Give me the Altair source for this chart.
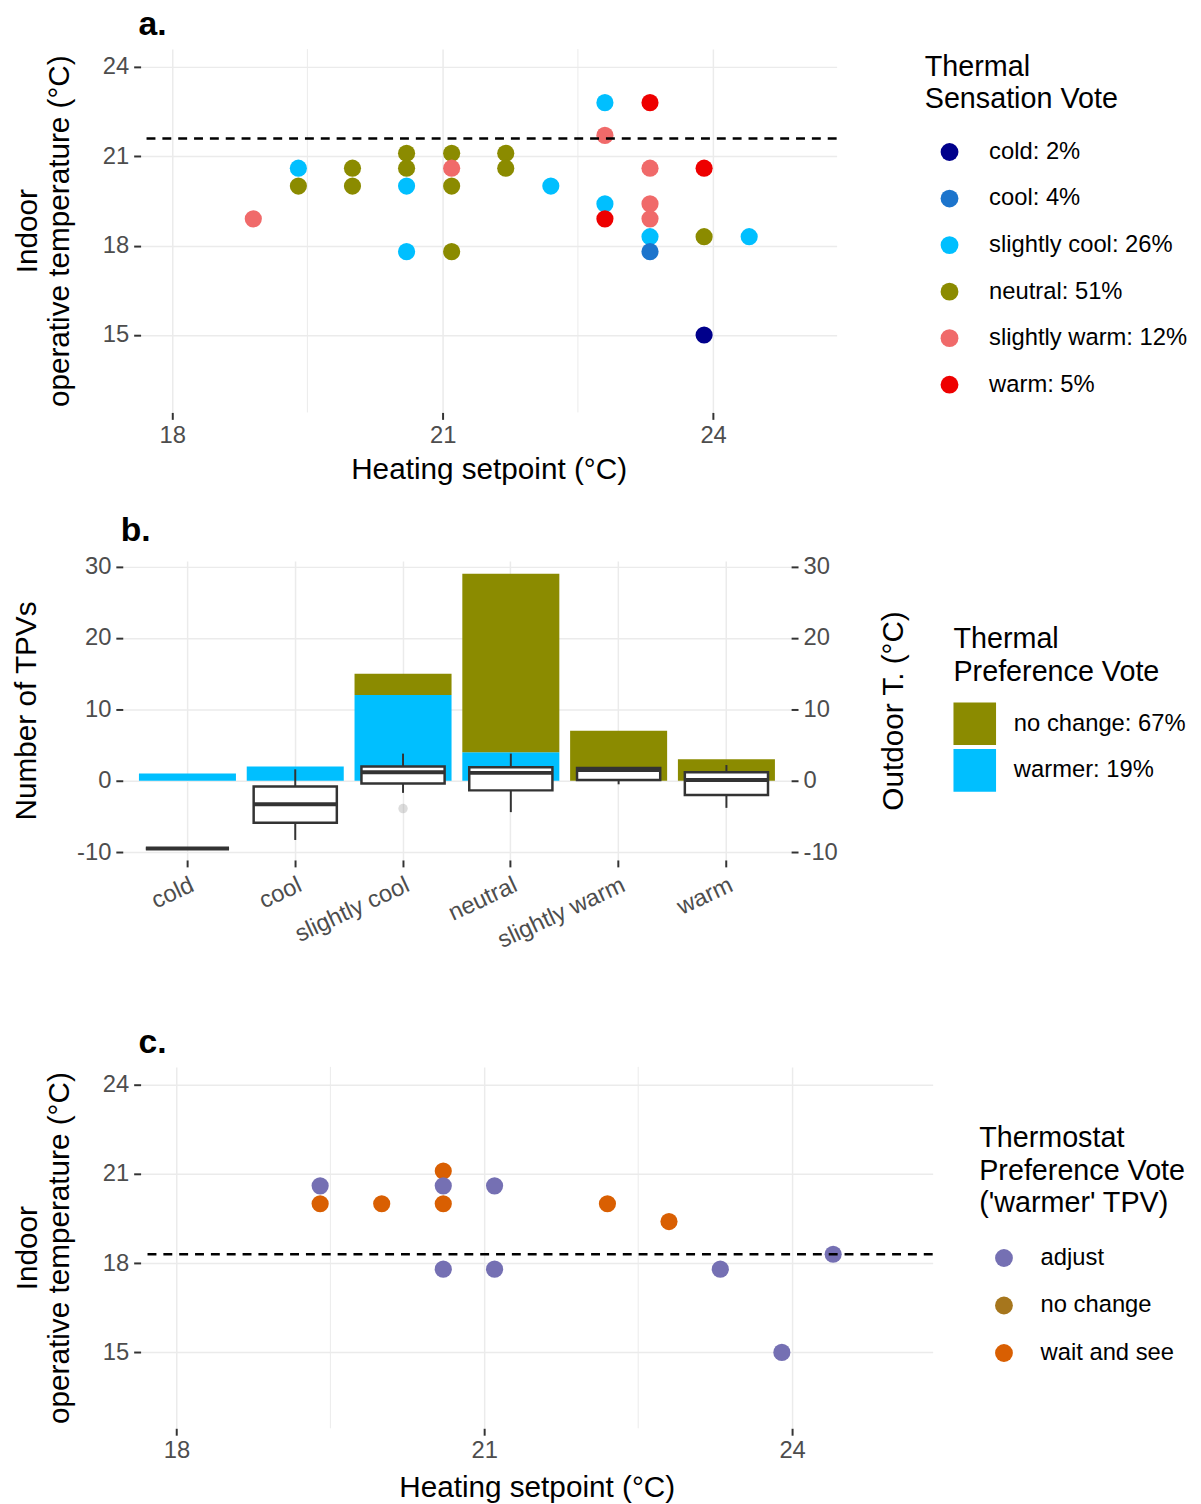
import altair as alt
import pandas as pd

FONT = "Liberation Sans"

# ---------------- Panel a data ----------------
a_setpoint = [18.9, 19.4, 19.4, 20.0, 20.0, 20.6, 20.6, 20.6, 20.6, 21.1, 21.1, 21.1, 21.1,
              21.7, 21.7, 22.2, 22.8, 22.8, 22.8, 22.8, 23.3, 23.3, 23.3, 23.3, 23.3, 23.3,
              23.9, 23.9, 23.9, 24.4]
a_indoor = [18.9, 20.6, 20.0, 20.6, 20.0, 21.1, 20.6, 20.0, 17.8, 21.1, 20.6, 20.0, 17.8,
            21.1, 20.6, 20.0, 22.8, 21.7, 19.4, 18.9, 22.8, 20.6, 19.4, 18.9, 18.3, 17.8,
            20.6, 18.3, 15.0, 18.3]
a_tsv = ["slightly warm", "slightly cool", "neutral", "neutral", "neutral", "neutral", "neutral",
         "slightly cool", "slightly cool", "neutral", "slightly warm", "neutral", "neutral",
         "neutral", "neutral", "slightly cool", "slightly cool", "slightly warm", "slightly cool",
         "warm", "warm", "slightly warm", "slightly warm", "slightly warm", "slightly cool",
         "cool", "warm", "neutral", "cold", "slightly cool"]
a_ref_line = [21.6]

tsv_categories = ["cold", "cool", "slightly cool", "neutral", "slightly warm", "warm"]
tsv_pct = [2, 4, 26, 51, 12, 5]
tsv_colors = ["#00008B", "#1C74CC", "#00BFFF", "#8B8B00", "#F06A6A", "#EE0000"]

# ---------------- Panel b data ----------------
tpv_categories = ["cold", "cool", "slightly cool", "neutral", "slightly warm", "warm"]
warmer_counts = [1, 2, 12, 4, 0, 0]
nochange_counts = [0, 0, 3, 25, 7, 3]
tpv_labels = ["no change: 67%", "warmer: 19%"]
tpv_colors = ["#8B8B00", "#00BFFF"]

out_min = [-9.5, -8.3, -1.7, -4.4, -0.5, -3.8]
out_q1 = [-9.5, -5.9, -0.4, -1.35, 0.1, -2.0]
out_med = [-9.5, -3.3, 1.2, 1.1, 1.5, 0.1]
out_q3 = [-9.5, -0.8, 2.0, 1.9, 1.8, 1.2]
out_max = [-9.5, 1.6, 3.8, 3.8, 1.8, 2.2]
outlier_cat = ["slightly cool"]
outlier_val = [-3.9]

# ---------------- Panel c data ----------------
c_setpoint = [19.4, 19.4, 20.0, 20.6, 20.6, 20.6, 20.6, 21.1, 21.1, 22.2, 22.8, 23.3, 23.9, 24.4]
c_indoor = [20.6, 20.0, 20.0, 21.1, 20.6, 20.0, 17.8, 20.6, 17.8, 20.0, 19.4, 17.8, 15.0, 18.3]
c_vote = ["adjust", "wait and see", "wait and see", "wait and see", "adjust", "wait and see",
          "adjust", "adjust", "adjust", "wait and see", "wait and see", "adjust", "adjust", "adjust"]
c_ref_line = [18.3]
vote_categories = ["adjust", "no change", "wait and see"]
vote_colors = ["#7570B3", "#A6761D", "#D95F02"]

minor_x = [19.5, 22.5]

X_DOMAIN = [17.65, 25.37]
Y_DOMAIN_A = [12.4, 24.6]
Y_DOMAIN_C = [12.45, 24.6]
Y_DOMAIN_B = [-11.1, 30.8]

legend_common = dict(
    orient="none", titleFont=FONT, titleFontSize=29, titleFontWeight="normal",
    titleColor="black", titleLimit=500, titleLineHeight=33, labelFont=FONT,
    labelFontSize=24, labelColor="black", labelLimit=500,
)


def title(txt, dx=-2):
    return alt.TitleParams(txt, anchor="start", frame="group", font=FONT, fontSize=34,
                           fontWeight="bold", color="black", offset=7, dx=dx)


y_axis_temp = alt.Axis(values=[15, 18, 21, 24], title=["Indoor", "operative temperature (°C)"],
                       labelPadding=5, titlePadding=28)

# ---------------- Panel a ----------------
df_a = pd.DataFrame({
    "setpoint": a_setpoint,
    "indoor": a_indoor,
    "tsv": [f"{c}: {tsv_pct[tsv_categories.index(c)]}%" for c in a_tsv],
})
tsv_labels = [f"{c}: {p}%" for c, p in zip(tsv_categories, tsv_pct)]

x_axis_a = alt.Axis(values=[18, 21, 24], title="Heating setpoint (°C)", labelPadding=4,
                    titlePadding=8, labelFlush=False)

xa = alt.X("setpoint:Q", scale=alt.Scale(domain=X_DOMAIN, nice=False, zero=False), axis=x_axis_a)
ya = alt.Y("indoor:Q", scale=alt.Scale(domain=Y_DOMAIN_A, nice=False, zero=False), axis=y_axis_temp)

minor_a = alt.Chart(pd.DataFrame({"setpoint": minor_x})).mark_rule(
    color="#EBEBEB", strokeWidth=1).encode(x=xa)
pts_a = alt.Chart(df_a).mark_circle(size=300, opacity=1).encode(
    x=xa, y=ya,
    color=alt.Color("tsv:N", scale=alt.Scale(domain=tsv_labels, range=tsv_colors),
                    legend=alt.Legend(title=["Thermal", "Sensation Vote"], legendX=792, legendY=4,
                                      titlePadding=26, symbolType="circle", symbolSize=324,
                                      symbolStrokeWidth=0, rowPadding=23, labelOffset=28,
                                      symbolOffset=13, **legend_common)),
)
ref_a = alt.Chart(pd.DataFrame({"indoor": a_ref_line})).mark_rule(
    color="black", strokeWidth=2.5, strokeDash=[9, 7]).encode(y=ya)

panel_a = alt.layer(minor_a, pts_a, ref_a).properties(width=703, height=367, title=title("a."))

# ---------------- Panel b ----------------
B_SHIFT = 18  # panel b's plot sits further left than panels a and c
B_WIDTH = 675

rows = []
for cat, w, n in zip(tpv_categories, warmer_counts, nochange_counts):
    rows.append({"cat": cat, "tpv": tpv_labels[1], "n": w, "ord": 0})
    rows.append({"cat": cat, "tpv": tpv_labels[0], "n": n, "ord": 1})
df_bars = pd.DataFrame(rows)
df_box = pd.DataFrame({"cat": tpv_categories, "lo": out_min, "q1": out_q1, "med": out_med,
                       "q3": out_q3, "hi": out_max})
df_out = pd.DataFrame({"cat": outlier_cat, "val": outlier_val})

xb = alt.X("cat:N", sort=tpv_categories,
           scale=alt.Scale(paddingInner=0.1, paddingOuter=0.15,
                           range=[-B_SHIFT, B_WIDTH - B_SHIFT]),
           axis=alt.Axis(title="x", titleColor="white", titlePadding=14, labelAngle=-25,
                         labelAlign="right", labelBaseline="top", labelPadding=6,
                         labelOverlap=False, grid=True))
yb_scale = alt.Scale(domain=Y_DOMAIN_B, nice=False, zero=False)
yb_left = alt.Axis(values=[-10, 0, 10, 20, 30], title="Number of TPVs", labelPadding=5,
                   titlePadding=35, offset=B_SHIFT, labelExpr="toString(datum.value)")
yb_right = alt.Axis(values=[-10, 0, 10, 20, 30], title="Outdoor T. (°C)", orient="right",
                    grid=False, labelPadding=5, titlePadding=72, titleAngle=270,
                    labelExpr="toString(datum.value)")

bars = alt.Chart(df_bars).mark_bar().encode(
    x=xb,
    y=alt.Y("n:Q", stack="zero", scale=yb_scale, axis=yb_left),
    order=alt.Order("ord:Q"),
    color=alt.Color("tpv:N", scale=alt.Scale(domain=tpv_labels, range=tpv_colors),
                    legend=alt.Legend(title=["Thermal", "Preference Vote"], legendX=821,
                                      legendY=65, titlePadding=16, symbolType="square",
                                      symbolSize=1849, symbolStrokeWidth=0, rowPadding=4,
                                      labelOffset=18, **legend_common)),
)
whisk = alt.Chart(df_box).mark_rule(color="#333333", strokeWidth=2).encode(
    x=xb, y=alt.Y("lo:Q", scale=yb_scale, axis=yb_right), y2="hi:Q")
box = alt.Chart(df_box).mark_bar(size=84, fill="white", stroke="#333333", strokeWidth=2.5).encode(
    x=xb, y=alt.Y("q1:Q", scale=yb_scale, axis=yb_right), y2="q3:Q")
med = alt.Chart(df_box).mark_tick(size=84, thickness=4, color="#333333", opacity=1).encode(
    x=xb, y=alt.Y("med:Q", scale=yb_scale, axis=yb_right))
outl = alt.Chart(df_out).mark_circle(size=90, color="#9A9A9A", opacity=0.35).encode(
    x=xb, y=alt.Y("val:Q", scale=yb_scale, axis=yb_right))
box_layer = alt.layer(whisk, box, med, outl)

panel_b = alt.layer(bars, box_layer).resolve_scale(y="independent").properties(
    width=B_WIDTH - B_SHIFT, height=302, title=title("b.", dx=-2 - B_SHIFT))

# ---------------- Panel c ----------------
df_c = pd.DataFrame({"setpoint": c_setpoint, "indoor": c_indoor, "vote": c_vote})
x_axis_c = alt.Axis(values=[18, 21, 24], title="Heating setpoint (°C)", labelPadding=4,
                    titlePadding=10, labelFlush=False)
xc = alt.X("setpoint:Q", scale=alt.Scale(domain=X_DOMAIN, nice=False, zero=False), axis=x_axis_c)
yc = alt.Y("indoor:Q", scale=alt.Scale(domain=Y_DOMAIN_C, nice=False, zero=False), axis=y_axis_temp)

minor_c = alt.Chart(pd.DataFrame({"setpoint": minor_x})).mark_rule(
    color="#EBEBEB", strokeWidth=1).encode(x=xc)
pts_c = alt.Chart(df_c).mark_circle(size=300, opacity=1).encode(
    x=xc, y=yc,
    color=alt.Color("vote:N", scale=alt.Scale(domain=vote_categories, range=vote_colors),
                    legend=alt.Legend(title=["Thermostat", "Preference Vote", "('warmer' TPV)"],
                                      legendX=847, legendY=58, titlePadding=28,
                                      symbolType="circle", symbolSize=324, symbolStrokeWidth=0,
                                      rowPadding=24, labelOffset=25, symbolOffset=13,
                                      **legend_common)),
)
ref_c = alt.Chart(pd.DataFrame({"indoor": c_ref_line})).mark_rule(
    color="black", strokeWidth=2.5, strokeDash=[9, 7]).encode(y=yc)

panel_c = alt.layer(minor_c, pts_c, ref_c).properties(width=800, height=365, title=title("c."))

chart = alt.concat(panel_a, panel_b, panel_c, columns=1, align="none", spacing=29).resolve_scale(
    color="independent"
).properties(
    padding={"left": 12, "top": 0, "right": 13, "bottom": 0},
    background="white",
).configure_view(strokeWidth=0).configure_axis(
    labelFont=FONT, titleFont=FONT, labelColor="#4D4D4D", titleColor="black",
    labelFontSize=24, titleFontSize=30, titleFontWeight="normal",
    tickColor="#333333", tickWidth=2, tickSize=7, domain=False,
    gridColor="#EBEBEB", gridWidth=1.5,
)

chart.save("out.html", embed_options={"renderer": "svg", "actions": False})
